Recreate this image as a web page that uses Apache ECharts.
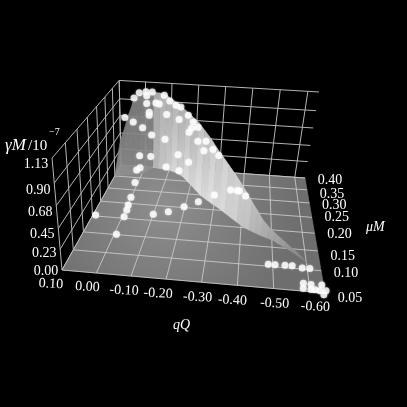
<!DOCTYPE html><html><head><meta charset="utf-8"><style>html,body{margin:0;background:#000}#c{width:407px;height:407px}</style><script src="https://cdn.jsdelivr.net/npm/echarts@6/dist/echarts.min.js"></script></head><body><div id="c"></div><script>
// ---- axis ticks
const qTicks=[0.10,0.00,-0.10,-0.20,-0.30,-0.40,-0.50,-0.60];
const muTicks=[0.05,0.10,0.15,0.20,0.25,0.30,0.35,0.40];
const gammaTicks=[0.00,0.23,0.45,0.68,0.90,1.13];
const qRange=[0.10,-0.64], muRange=[0.05,0.40], gammaMax=1.13;
// ---- measured points (qQ, muM, gammaM/1e-7)
const pointQ=[0.091,-0.007,-0.006,-0.005,-0.002,0.001,0.011,0.028,0.019,-0.100,-0.148,-0.197,-0.243,-0.296,-0.353,-0.378,-0.386,-0.410,-0.487,-0.507,-0.536,-0.557,-0.586,-0.608,-0.584,-0.582,-0.605,-0.603,-0.614,-0.635,-0.627,-0.644,-0.636,
0.081,0.044,0.024,-0.002,-0.005,-0.026,-0.005,-0.041,-0.054,-0.074,-0.096,-0.122,-0.143,-0.015,-0.015,-0.085,-0.137,-0.178,-0.201,0.048,0.011,-0.025,-0.080,-0.195,-0.184,-0.222,-0.224,-0.256,-0.250,-0.283,-0.305,0.023,-0.022,-0.137,-0.187,-0.087,-0.143];
const pointMu=[0.203,0.151,0.205,0.227,0.244,0.272,0.329,0.383,0.394,0.220,0.232,0.253,0.274,0.303,0.327,0.327,0.326,0.308,0.105,0.105,0.106,0.106,0.103,0.103,0.067,0.056,0.066,0.055,0.055,0.067,0.054,0.055,0.046,
0.400,0.400,0.400,0.400,0.400,0.400,0.400,0.398,0.397,0.394,0.391,0.383,0.374,0.400,0.400,0.393,0.379,0.346,0.326,0.400,0.400,0.400,0.394,0.332,0.343,0.307,0.307,0.284,0.289,0.269,0.257,0.400,0.400,0.381,0.344,0.393,0.380];
const pointGamma=[0,0,0,0,0,0,0,0,0,0,0,0,0,0,0,0,0,0,0,0,0,0,0,0,0,0,0,0,0,0,0,0,0,
0.66,0.92,0.99,1.01,0.96,1.01,0.86,0.88,0.87,0.99,0.93,0.90,0.90,0.75,0.71,0.75,0.73,0.87,0.84,0.61,0.54,0.45,0.42,0.75,0.67,0.83,0.66,0.73,0.60,0.68,0.65,0.15,0.15,0.26,0.28,0.04,0.04];
// ---- surface: the rising part for qQ > -0.03 (slope up to muM = 0.40)
const slopeQ=[0.100,0.089,0.068,0.048,0.029,0.009,-0.010,-0.030];
const slopeFootMu=[0.350,0.352,0.356,0.360,0.364,0.368,0.372,0.399];
const slopeGamma=[0.36,0.45,0.68,0.87,0.95,0.99,1.00,1.01];
// ---- surface: the ridge for qQ < -0.03
const ridgeQ=[-0.032,-0.057,-0.083,-0.108,-0.135,-0.163,-0.192,-0.221,-0.248,-0.273,-0.296,-0.320,-0.342,-0.364,-0.386,-0.407,-0.427,-0.446,-0.466,-0.485,-0.504,-0.522,-0.540,-0.558,-0.575,-0.591,-0.607,-0.622];
const ridgeMu=[0.399,0.397,0.394,0.390,0.382,0.367,0.343,0.319,0.297,0.282,0.269,0.256,0.242,0.228,0.215,0.202,0.194,0.187,0.180,0.175,0.169,0.160,0.152,0.143,0.134,0.124,0.111,0.097];
const ridgeGamma=[1.01,1.01,0.99,0.95,0.91,0.88,0.87,0.86,0.82,0.77,0.70,0.64,0.59,0.54,0.48,0.42,0.34,0.27,0.19,0.14,0.10,0.08,0.06,0.04,0.03,0.01,0.00,0.00];
// ---- shading of the surface (grey levels)
const ridgeTopGrey=[168,176,170,178,172,182,176,192,186,202,196,210,204,208,200,200,190,186,176,170,164,158,150,144,140,134,128,122];
const ridgeFootGrey=[182,196,204,216,210,222,216,226,218,224,214,218,208,208,196,194,182,176,170,164,158,152,146,140,136,130,126,122];
const slopeTopGrey=[122,124,126,128,128,130,130,128];
const slopeFootGrey=[146,144,142,140,140,142,144,146];
// ---- layout constants of the box (perspective from four floor corners, vertical vanishing point)
const corners=[62,270,325,293,305,178,121,165], vp=[142.7,1176], vk=-0.11;
const [x0,y0,x1,y1,x2,y2,x3,y3]=corners;
const dx1=x1-x2,dx2=x3-x2,sx=x0-x1+x2-x3,dy1=y1-y2,dy2=y3-y2,sy=y0-y1+y2-y3,den=dx1*dy2-dx2*dy1;
const g=(sx*dy2-dx2*sy)/den,h=(dx1*sy-sx*dy1)/den;
const a=x1-x0+g*x1,b=x3-x0+h*x3,c=x0,d=y1-y0+g*y1,e=y3-y0+h*y3,f=y0;
function proj(q,mu,z){
  const u=(q-qRange[0])/(qRange[1]-qRange[0]),v=(mu-muRange[0])/(muRange[1]-muRange[0]),w=z/gammaMax;
  const W=g*u+h*v+vk*w+1;
  return [(a*u+b*v+vk*vp[0]*w+c)/W,(d*u+e*v+vk*vp[1]*w+f)/W];
}
const grey=n=>'rgb('+n+','+n+','+n+')';
function layer(items,draw){
  return {type:'custom',coordinateSystem:'cartesian2d',silent:true,clip:false,animation:false,
    data:items.map((_,i)=>[i,0]),
    renderItem:(p,api)=>draw(items[p.dataIndex],api)};
}
const toPx=(api,pts)=>pts.map(t=>api.coord(t));
const lineEl=(api,A,B,col)=>{const [P,Q]=toPx(api,[A,B]);return {type:'line',shape:{x1:P[0],y1:P[1],x2:Q[0],y2:Q[1]},style:{stroke:col,lineWidth:1}};};
// grid line lists (pairs of 3-D ends)
const [qa,qb]=qRange,[ma,mb]=muRange,zt=gammaMax;
const wallLines=[];
gammaTicks.forEach(z=>{wallLines.push([[qa,ma,z],[qa,mb,z]]);wallLines.push([[qa,mb,z],[qb,mb,z]]);});
muTicks.forEach(m=>wallLines.push([[qa,m,0],[qa,m,zt]]));
qTicks.forEach(q=>wallLines.push([[q,mb,0],[q,mb,zt]]));
const floorLines=[];
qTicks.forEach(q=>floorLines.push([[q,ma,0],[q,mb,0]]));
muTicks.forEach(m=>floorLines.push([[qa,m,0],[qb,m,0]]));
const polyEl=(api,pts,fill,stroke,op)=>({type:'polygon',shape:{points:toPx(api,pts)},style:{fill,stroke:stroke||fill,lineWidth:0.6,opacity:op==null?1:op}});
// surface strips
const slopeStrips=slopeQ.slice(0,-1).map((q,i)=>({i}));
const ridgeStrips=ridgeQ.slice(0,-1).map((q,i)=>({i}));
// text offsets in pixels
const qNudge=[[-11,14],[-9,14],[-7,14.5],[-8,14.5],[-4,15],[-5,15],[1,15],[5,15]];
const muNudge=[[25,5],[25,3],[25,5],[25,1],[25,0],[25,2],[25,4],[25,2]];
const zNudge=[[-16,1],[-16,4],[-16,6],[-16,7],[-16,7],[-16,6]];
const fmt=v=>v.toFixed(2);
const labels=[];
qTicks.forEach((q,i)=>labels.push({t:fmt(q),p:[q,ma,0],n:qNudge[i],r:-0.05}));
muTicks.forEach((m,i)=>labels.push({t:fmt(m),p:[qb,m,0],n:muNudge[i],r:0}));
gammaTicks.forEach((z,i)=>labels.push({t:fmt(z),p:[qa,ma,z],n:zNudge[i],r:0}));
const serif='"Liberation Serif","DejaVu Serif",serif';
const option={
  backgroundColor:'#000',animation:false,
  grid:{left:0,right:0,top:0,bottom:0},
  xAxis:{type:'value',min:0,max:407,show:false},
  yAxis:{type:'value',min:0,max:407,inverse:true,show:false},
  series:[
    layer(wallLines,(l,api)=>lineEl(api,proj(...l[0]),proj(...l[1]),'#b4b4b4')),
    layer([0],(_,api)=>polyEl(api,[proj(qa,ma,0),proj(qb,ma,0),proj(qb,mb,0),proj(qa,mb,0)],
       new echarts.graphic.RadialGradient(165,205,135,[{offset:0,color:'#8e8e8e'},{offset:0.55,color:'#7c7c7c'},{offset:1,color:'#6e6e6e'}],true),'#777')),
    layer(floorLines,(l,api)=>lineEl(api,proj(...l[0]),proj(...l[1]),'rgba(205,205,205,0.85)')),
    layer(slopeStrips,(s,api)=>{const i=s.i,j=i+1;
      return polyEl(api,[proj(slopeQ[i],slopeFootMu[i],0),proj(slopeQ[j],slopeFootMu[j],0),proj(slopeQ[j],mb,slopeGamma[j]),proj(slopeQ[i],mb,slopeGamma[i])],
        new echarts.graphic.LinearGradient(0,0,0,1,[{offset:0,color:grey(slopeTopGrey[i])},{offset:1,color:grey(slopeFootGrey[i])}]),null,0.93);}),
    layer(ridgeStrips,(s,api)=>{const i=s.i,j=i+1;
      return polyEl(api,[proj(ridgeQ[i],ridgeMu[i],0),proj(ridgeQ[j],ridgeMu[j],0),proj(ridgeQ[j],ridgeMu[j],ridgeGamma[j]),proj(ridgeQ[i],ridgeMu[i],ridgeGamma[i])],
        new echarts.graphic.LinearGradient(0,0,0,1,[{offset:0,color:grey(ridgeTopGrey[i])},{offset:1,color:grey(ridgeFootGrey[i])}]));}),
    {type:'scatter',symbol:'circle',symbolSize:7,clip:false,silent:true,animation:false,
     itemStyle:{color:'#fff',shadowBlur:2,shadowColor:'rgba(255,255,255,0.6)'},
     data:pointQ.map((q,i)=>proj(q,pointMu[i],pointGamma[i]))},
    layer(labels,(l,api)=>{const P=api.coord(proj(...l.p));
      return {type:'text',x:P[0]+l.n[0],y:P[1]+l.n[1],rotation:l.r,style:{text:l.t,font:'14px '+serif,fill:'#fff',align:'center',verticalAlign:'middle'}};}),
    layer([{t:'γM',a:[5,146],f:'italic 17px '},{t:'/10',a:[28,146],f:'15px '},{t:'−7',a:[49,132],f:'10px '},{t:'qQ',a:[173,325],f:'italic 14px '},{t:'μM',a:[366,227],f:'italic 14px '}],(l,api)=>{
      const P=api.coord(l.a);
      return {type:'text',x:P[0],y:P[1],style:{text:l.t,font:l.f+serif,fill:'#fff',align:'left',verticalAlign:'middle'}};})
  ]
};
const chart=echarts.init(document.getElementById('c'),null,{renderer:'canvas'});
chart.setOption(option);
</script></body></html>
